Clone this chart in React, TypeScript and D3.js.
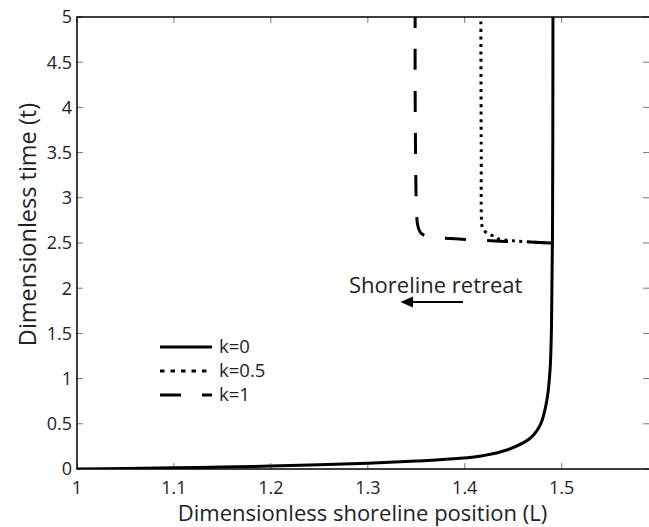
import React from "react";
import * as d3 from "d3";

// ---- data ----
const xTicks = [1, 1.1, 1.2, 1.3, 1.4, 1.5];
const yTicks = [0, 0.5, 1, 1.5, 2, 2.5, 3, 3.5, 4, 4.5, 5];

// k = 0 (solid)
const k0L = [1.0, 1.05, 1.1, 1.15, 1.2, 1.25, 1.3, 1.35, 1.395, 1.42, 1.4434, 1.4675, 1.478, 1.4847, 1.488, 1.4895, 1.4905, 1.491];
const k0T = [0, 0.006, 0.013, 0.022, 0.033, 0.046, 0.063, 0.088, 0.118, 0.15, 0.21, 0.34, 0.49, 0.76, 1.1, 1.6, 2.6, 5];

// k = 0.5 (dotted), from top downward
const k05L = [1.4166, 1.417, 1.4176, 1.4185, 1.4228, 1.4314, 1.435, 1.45, 1.47, 1.4905];
const k05T = [4.95, 3.5, 2.7, 2.66, 2.61, 2.57, 2.545, 2.525, 2.51, 2.5];

// k = 1 (dashed), from top downward
const k1L = [1.3488, 1.349, 1.3505, 1.3514, 1.354, 1.359, 1.3695, 1.385, 1.401, 1.436, 1.4675, 1.4905];
const k1T = [5.0, 3.8, 2.78, 2.7, 2.62, 2.58, 2.56, 2.55, 2.54, 2.52, 2.51, 2.5];

const legendLabels = ["k=0", "k=0.5", "k=1"];

const W = 649;
const H = 527;
const left = 77;
const right = 650;
const top = 17;
const bottom = 469;
const FONT = "'Open Sans', 'Noto Sans', sans-serif";

export default function App() {
  const x = d3.scaleLinear().domain([1, 1.5]).range([left, 561.7]);
  const y = d3.scaleLinear().domain([0, 5]).range([bottom, top]);
  const lineX = d3
    .line<[number, number]>()
    .x((d) => x(d[0]))
    .y((d) => y(d[1]))
    .curve(d3.curveCatmullRom.alpha(0.5));

  const zip = (a: number[], b: number[]) => a.map((v, i) => [v, b[i]] as [number, number]);

  const legendY = [347, 371, 395];
  const legendDash = ["none", "4.5,6", "21,21"];

  return (
    <>
      <style>{`body{margin:0}`}</style>
      <svg width={W} height={H} style={{ display: "block", background: "#fff" }}>
        <defs>
          <clipPath id="plot">
            <rect x={left} y={top} width={right - left} height={bottom - top} />
          </clipPath>
        </defs>

        {/* ticks */}
        {xTicks.map((t) => (
          <g key={"xt" + t} stroke="#777" strokeWidth={1}>
            <line x1={x(t)} x2={x(t)} y1={bottom} y2={bottom - 6} />
            <line x1={x(t)} x2={x(t)} y1={top} y2={top + 6} />
          </g>
        ))}
        {yTicks.map((t) => (
          <g key={"yt" + t} stroke="#777" strokeWidth={1}>
            <line x1={left} x2={left + 6} y1={y(t)} y2={y(t)} />
            <line x1={right} x2={right - 7} y1={y(t)} y2={y(t)} />
          </g>
        ))}

        {/* curves */}
        <g clipPath="url(#plot)" fill="none" stroke="#000" strokeWidth={3}>
          <path d={lineX(zip(k0L, k0T)) || ""} />
          <path d={lineX(zip(k05L, k05T)) || ""} strokeDasharray="3,4.5" strokeDashoffset={0} />
          <path d={lineX(zip(k1L, k1T)) || ""} strokeDasharray="21,21" strokeDashoffset={10} />
        </g>

        {/* frame */}
        <rect x={left} y={top} width={right - left} height={bottom - top} fill="none" stroke="#000" strokeWidth={1.5} />

        {/* tick labels */}
        {xTicks.map((t) => (
          <text key={"xl" + t} x={x(t)} y={494} textAnchor="middle" fontFamily={FONT} fontSize={18} fill="#222">
            {String(t)}
          </text>
        ))}
        {yTicks.map((t) => (
          <text key={"yl" + t} x={72} y={y(t)} dy="0.35em" textAnchor="end" fontFamily={FONT} fontSize={18} fill="#222">
            {String(t)}
          </text>
        ))}

        {/* axis labels */}
        <text x={362.5} y={521} textAnchor="middle" fontFamily={FONT} fontSize={22} fill="#222">
          Dimensionless shoreline position (L)
        </text>
        <text
          transform={`translate(36,224.5) rotate(-90)`}
          textAnchor="middle"
          fontFamily={FONT}
          fontSize={23.5}
          fill="#222"
        >
          Dimensionless time (t)
        </text>

        {/* annotation */}
        <text x={349} y={292.5} fontFamily={FONT} fontSize={22} fill="#222">
          Shoreline retreat
        </text>
        <line x1={463} x2={410} y1={302} y2={302} stroke="#000" strokeWidth={2} />
        <path d="M400.5,302 L413,296.5 L413,307.5 Z" fill="#000" />

        {/* legend */}
        {legendLabels.map((lab, i) => (
          <g key={lab}>
            <line
              x1={160}
              x2={212}
              y1={legendY[i]}
              y2={legendY[i]}
              stroke="#000"
              strokeWidth={3}
              strokeDasharray={legendDash[i]}
            />
            <text x={219} y={legendY[i]} dy="0.35em" fontFamily={FONT} fontSize={18.5} fill="#222">
              {lab}
            </text>
          </g>
        ))}
      </svg>
    </>
  );
}
